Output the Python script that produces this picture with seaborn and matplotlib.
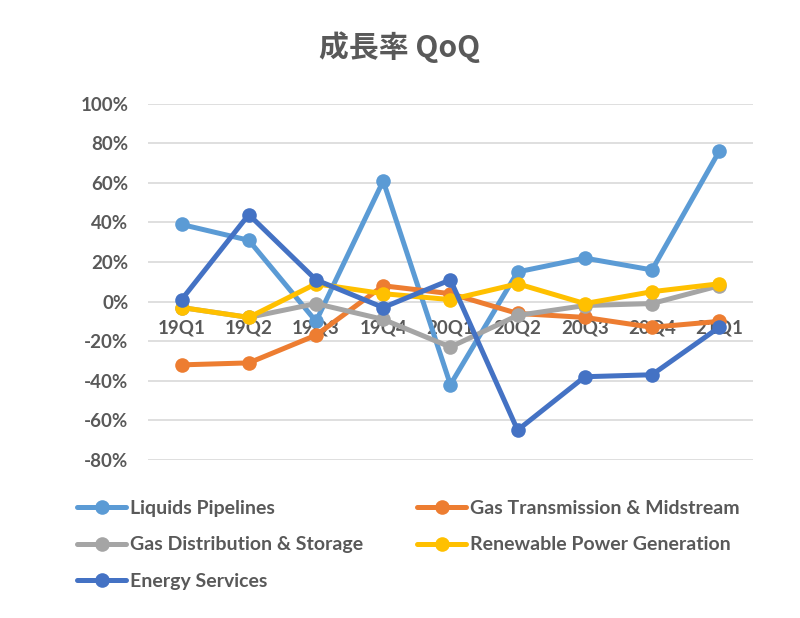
import seaborn as sns
import numpy as np
import pandas as pd
import matplotlib.pyplot as plt
from matplotlib.ticker import FuncFormatter

QUARTERS = ['19Q1', '19Q2', '19Q3', '19Q4', '20Q1', '20Q2', '20Q3', '20Q4', '21Q1']

SERIES = ['Liquids Pipelines',
          'Gas Transmission & Midstream',
          'Gas Distribution & Storage',
          'Renewable Power Generation',
          'Energy Services']

liquids = [39, 31, -10, 61, -42, 15, 22, 16, 76]
gas_trans = [-32, -31, -17, 8, 4, -6, -8, -13, -10]
gas_dist = [-3, -8, -1, -9, -23, -7, -2, -1, 8]
renewable = [-3, -8, 9, 4, 1, 9, -1, 5, 9]
energy = [1, 44, 11, -3, 11, -65, -38, -37, -13]

COLORS = ['#5B9BD5', '#ED7D31', '#A5A5A5', '#FFC000', '#4472C4']

rows = []
for name, vals in zip(SERIES, [liquids, gas_trans, gas_dist, renewable, energy]):
    for q, v in zip(QUARTERS, vals):
        rows.append({'quarter': q, 'series': name, 'value': v})
df = pd.DataFrame(rows)

sns.set_style('white')
plt.rcParams['font.family'] = ['Lato', 'Noto Sans CJK JP', 'DejaVu Sans']
TXT = '#595959'

fig = plt.figure(figsize=(8, 6.18), dpi=100)
ax = fig.add_axes([0.185, 0.256, 0.756, 0.576])

sns.lineplot(data=df, x='quarter', y='value', hue='series', hue_order=SERIES,
             palette=COLORS, marker='o', markersize=10.5, markeredgewidth=0,
             linewidth=3.6, sort=False, ax=ax, legend=True)

ax.set_xlim(-0.5, len(QUARTERS) - 0.5)
ax.set_ylim(-80, 100)
ax.set_yticks(np.arange(-80, 101, 20))
ax.yaxis.set_major_formatter(FuncFormatter(lambda v, p: f'{v:.0f}%'))
ax.grid(axis='y', color='#D9D9D9', linewidth=1.2)
ax.set_axisbelow(True)
for s in ['top', 'right', 'left']:
    ax.spines[s].set_visible(False)
ax.spines['bottom'].set_position(('data', 0))
ax.spines['bottom'].set_visible(False)
ax.tick_params(axis='both', length=0, colors=TXT, labelsize=13.5)
ax.tick_params(axis='x', pad=13)
ax.tick_params(axis='y', pad=14)
for lab in ax.get_xticklabels() + ax.get_yticklabels():
    lab.set_fontweight('bold')
ax.set_xlabel('')
ax.set_ylabel('')

fig.text(0.5, 0.924, '成長率 QoQ', ha='center', va='center', fontsize=21.5,
         fontweight='bold', color=TXT,
         family=['Noto Sans CJK JP', 'Lato'])

handles, labels = ax.get_legend_handles_labels()
order = [0, 2, 4, 1, 3]
ax.legend([handles[i] for i in order], [labels[i] for i in order],
          ncol=2, frameon=False, loc='upper left',
          bbox_to_anchor=(-0.117, -0.113), handlelength=2.5, handletextpad=0.2,
          columnspacing=2.8, labelspacing=1.0, labelcolor=TXT,
          borderaxespad=0, borderpad=0,
          prop={'weight': 'bold', 'size': 14})

fig.savefig('out.png', dpi=100)
